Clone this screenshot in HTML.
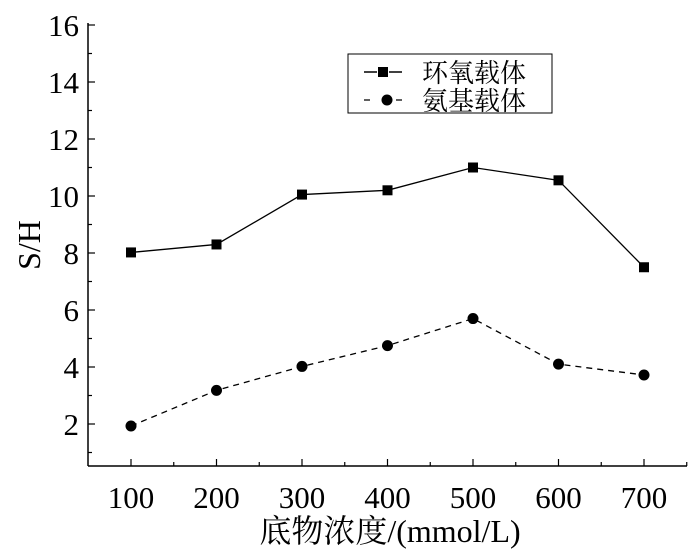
<!DOCTYPE html>
<html><head><meta charset="utf-8"><style>
body{margin:0;background:#fff}
svg{display:block}
text{font-family:"Liberation Serif","Noto Serif CJK SC",serif;fill:#000}
</style></head><body>
<svg id="chart" width="700" height="559"></svg>
<script>
const categories=[100,200,300,400,500,600,700];
const epoxyValues=[8.02,8.3,10.05,10.2,11.0,10.55,7.5];
const aminoValues=[1.93,3.18,4.02,4.75,5.7,4.1,3.72];
const yTickLabels=[2,4,6,8,10,12,14,16];
const xTickLabels=[100,200,300,400,500,600,700];
const NS='http://www.w3.org/2000/svg';
const svg=document.getElementById('chart');
const L=88,R=687,T=25,B=466;
const X=v=>131+(v-100)*(644-131)/600;
const Y=v=>424-(v-2)*(424-25)/14;
function mk(tag,attrs,parent){const e=document.createElementNS(NS,tag);for(const k in attrs)e.setAttribute(k,attrs[k]);(parent||svg).appendChild(e);return e;}
let e;
e=mk('line',{x1:L,y1:T-2,x2:L,y2:B,stroke:'#000','stroke-width':1.5});


e=mk('line',{x1:L,y1:B,x2:R,y2:B,stroke:'#000','stroke-width':1.5});


for(let v=1;v<=16;v++){
  const len=v%2===0?7:4;
  e=mk('line',{x1:L,y1:Y(v),x2:L+len,y2:Y(v),stroke:'#000','stroke-width':1.2});
  
  
}
yTickLabels.forEach(v=>{
  e=mk('text',{x:L-9,y:Y(v)+11,'text-anchor':'end','font-size':31});
  e.textContent=v;
  
  
});
for(let v=100;v<=750;v+=50){
  const len=v%100===0?7:4;
  e=mk('line',{x1:X(v),y1:B,x2:X(v),y2:B-len,stroke:'#000','stroke-width':1.2});
  
  
}
xTickLabels.forEach(v=>{
  e=mk('text',{x:X(v),y:B+42,'text-anchor':'middle','font-size':31});
  e.textContent=v;
  
  
});
e=mk('text',{x:0,y:0,'text-anchor':'middle','font-size':32,transform:'translate(40,245) rotate(-90)'});
e.textContent='S/H';


e=mk('text',{x:390,y:542,'text-anchor':'middle','font-size':32});
e.textContent='底物浓度/(mmol/L)';


function series(vals,dash,shape,name){
  const pts=vals.map((v,i)=>X(categories[i])+','+Y(v)).join(' ');
  e=mk('polyline',{points:pts,fill:'none',stroke:'#000','stroke-width':1.3,'stroke-dasharray':dash});
  
  
  vals.forEach((v,i)=>{
    if(shape==='sq') e=mk('rect',{x:X(categories[i])-5,y:Y(v)-5,width:10,height:10,fill:'#000'});
    else e=mk('circle',{cx:X(categories[i]),cy:Y(v),r:5.5,fill:'#000'});
    
    
  });
}
series(epoxyValues,'none','sq','epoxy');
series(aminoValues,'6,5','ci','amino');
const lg=mk('g',{});


mk('rect',{x:348,y:54,width:204,height:59,fill:'#fff',stroke:'#000','stroke-width':1},lg);
mk('line',{x1:364,y1:72,x2:402,y2:72,stroke:'#000','stroke-width':1.5,'stroke-dasharray':'13,12'},lg);
mk('rect',{x:378,y:67,width:10,height:10,fill:'#000'},lg);
e=mk('text',{x:422,y:82,'font-size':26},lg);e.textContent='环氧载体';


mk('line',{x1:364,y1:100,x2:402,y2:100,stroke:'#000','stroke-width':1.3,'stroke-dasharray':'6,26'},lg);
mk('circle',{cx:387,cy:100,r:5.5,fill:'#000'},lg);
e=mk('text',{x:422,y:110,'font-size':26},lg);e.textContent='氨基载体';


</script>
</body></html>
